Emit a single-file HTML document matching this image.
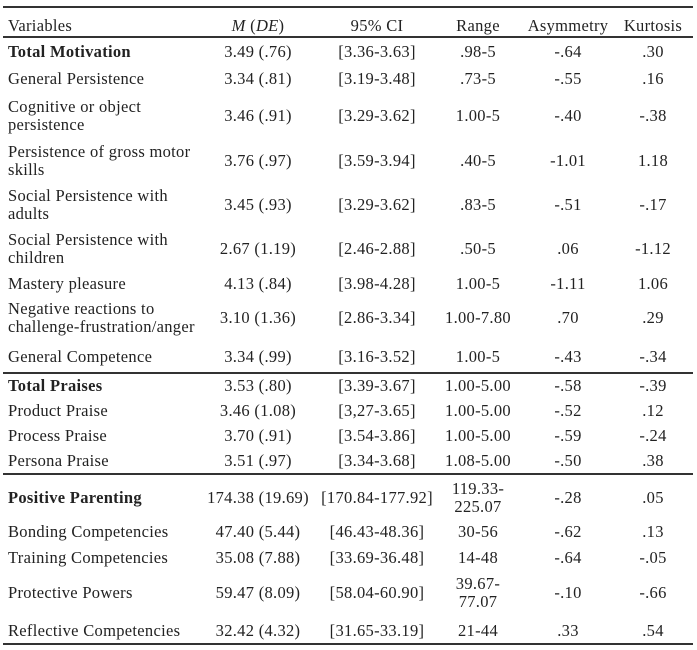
<!DOCTYPE html>
<html><head><meta charset="utf-8"><style>
body{margin:0;width:697px;height:650px;background:#fff;position:relative;overflow:hidden;font-family:"Liberation Serif",serif;font-size:16.5px;letter-spacing:0.3px;color:#222}
.l{position:absolute;left:3px;width:690px;height:1.5px;background:#333}
.t{position:absolute;line-height:18px;white-space:nowrap}
.c{width:200px;text-align:center}
b{font-weight:bold}
</style></head><body>
<div class="l" style="top:6px"></div>
<div class="l" style="top:36px"></div>
<div class="l" style="top:372px"></div>
<div class="l" style="top:473px"></div>
<div class="l" style="top:643px"></div>
<div id="rows"></div>
<script>
var X=[null,258,377,478,568,653];
var rows=[
[26,["Variables"],"<i>M</i> (<i>DE</i>)","95% CI","Range","Asymmetry","Kurtosis"],
[52,["<b>Total Motivation</b>"],"3.49 (.76)","[3.36-3.63]",".98-5","-.64",".30"],
[79,["General Persistence"],"3.34 (.81)","[3.19-3.48]",".73-5","-.55",".16"],
[116,["Cognitive or object","persistence"],"3.46 (.91)","[3.29-3.62]","1.00-5","-.40","-.38"],
[161,["Persistence of gross motor","skills"],"3.76 (.97)","[3.59-3.94]",".40-5","-1.01","1.18"],
[205,["Social Persistence with","adults"],"3.45 (.93)","[3.29-3.62]",".83-5","-.51","-.17"],
[249,["Social Persistence with","children"],"2.67 (1.19)","[2.46-2.88]",".50-5",".06","-1.12"],
[284,["Mastery pleasure"],"4.13 (.84)","[3.98-4.28]","1.00-5","-1.11","1.06"],
[318,["Negative reactions to","challenge-frustration/anger"],"3.10 (1.36)","[2.86-3.34]","1.00-7.80",".70",".29"],
[357,["General Competence"],"3.34 (.99)","[3.16-3.52]","1.00-5","-.43","-.34"],
[386,["<b>Total Praises</b>"],"3.53 (.80)","[3.39-3.67]","1.00-5.00","-.58","-.39"],
[411,["Product Praise"],"3.46 (1.08)","[3,27-3.65]","1.00-5.00","-.52",".12"],
[436,["Process Praise"],"3.70 (.91)","[3.54-3.86]","1.00-5.00","-.59","-.24"],
[461,["Persona Praise"],"3.51 (.97)","[3.34-3.68]","1.08-5.00","-.50",".38"],
[498,["<b>Positive Parenting</b>"],"174.38 (19.69)","[170.84-177.92]","119.33-<br>225.07","-.28",".05"],
[532,["Bonding Competencies"],"47.40 (5.44)","[46.43-48.36]","30-56","-.62",".13"],
[558,["Training Competencies"],"35.08 (7.88)","[33.69-36.48]","14-48","-.64","-.05"],
[593,["Protective Powers"],"59.47 (8.09)","[58.04-60.90]","39.67-<br>77.07","-.10","-.66"],
[631,["Reflective Competencies"],"32.42 (4.32)","[31.65-33.19]","21-44",".33",".54"]];
var h="";
rows.forEach(function(r){var y=r[0];var v=r[1];
 h+='<div class="t" style="left:8px;top:'+(y-9*v.length)+'px">'+v.join("<br>")+'</div>';
 for(var i=2;i<7;i++){var n=(r[i].split("<br>").length);
  h+='<div class="t c" style="left:'+(X[i-1]-100)+'px;top:'+(y-9*n)+'px">'+r[i]+'</div>';}
});
document.getElementById("rows").innerHTML=h;
</script>
</body></html>
